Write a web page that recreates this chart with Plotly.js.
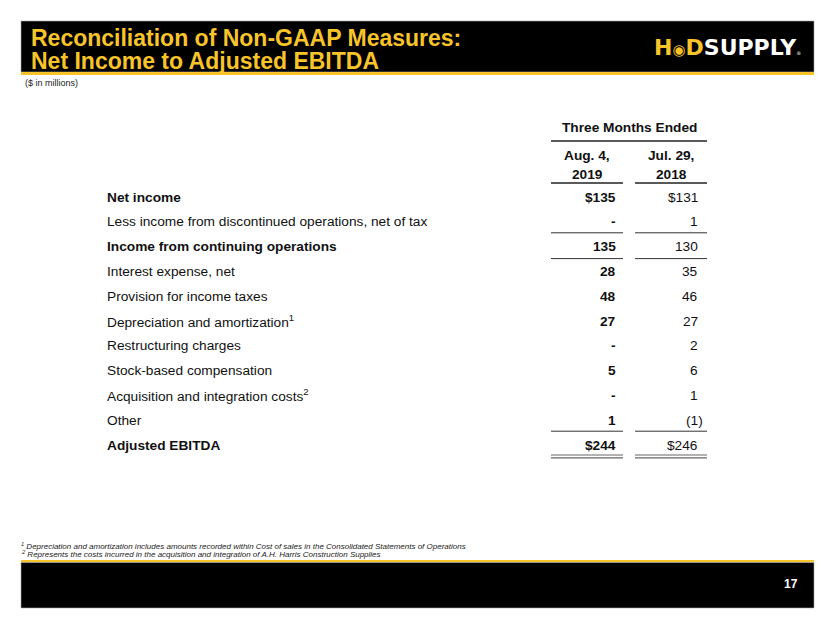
<!DOCTYPE html>
<html>
<head>
<meta charset="utf-8">
<script src="https://cdn.plot.ly/plotly-3.0.1.min.js"></script>
<style>html,body{margin:0;padding:0;background:#fff;}#chart{width:830px;height:623px;}</style>
</head>
<body>
<div id="chart"></div>
<script>
// ---- Data ----
const titleLines = ["Reconciliation of Non-GAAP Measures:", "Net Income to Adjusted EBITDA"];
const unitNote = "($ in millions)";
const groupHeader = "Three Months Ended";
const periodLine1 = ["Aug. 4,", "Jul. 29,"];
const periodLine2 = ["2019", "2018"];
const rowLabels = [
  "Net income",
  "Less income from discontinued operations, net of tax",
  "Income from continuing operations",
  "Interest expense, net",
  "Provision for income taxes",
  "Depreciation and amortization<sup>1</sup>",
  "Restructuring charges",
  "Stock-based compensation",
  "Acquisition and integration costs<sup>2</sup>",
  "Other",
  "Adjusted EBITDA"
];
const rowKinds = ["total", "item", "subtotal", "item", "item", "item", "item", "item", "item", "item", "total"];
const values2019 = [135, 0, 135, 28, 48, 27, 0, 5, 0, 1, 244];
const values2018 = [131, 1, 130, 35, 46, 27, 2, 6, 1, -1, 246];
const footnotes = [
  "<sup>1</sup> Depreciation and amortization includes amounts recorded within Cost of sales in the Consolidated Statements of Operations",
  "<sup>2</sup> Represents the costs incurred in the acquisition and integration of A.H. Harris Construction Supplies"
];
const pageNumber = "17";

// ---- Layout constants ----
const W = 830, H = 623;
const FONT = "Liberation Sans, Arial, sans-serif";
const LOGOFONT = "DejaVu Sans, Liberation Sans, sans-serif";
const YELLOW = "#F8C42A";
const rowY0 = 197, rowPitch = 24.8;
const labelX = 105;
const col = [{l: 551, r: 623, vx: 618}, {l: 635, r: 707, vx: 700}];
const rowY = i => rowY0 + i * rowPitch;

function fmt(v, kind) {
  if (v === 0) return "-";
  const s = (kind === "total" ? "$" : "") + Math.abs(v);
  return v < 0 ? "(" + s + ")" : s;
}

const annotations = [];
const shapes = [];
function ann(o) {
  annotations.push(Object.assign({xref: "x", yref: "y", showarrow: false, yanchor: "middle",
    font: {family: FONT, size: 13.7, color: "#111"}}, o));
}

// Header band
shapes.push({type: "rect", xref: "x", yref: "y", x0: 21, x1: 814, y0: 21, y1: 72, fillcolor: "#000", line: {color: "#aaa", width: 0.6}, layer: "below"});
shapes.push({type: "rect", xref: "x", yref: "y", x0: 21, x1: 814, y0: 72, y1: 75, fillcolor: YELLOW, line: {width: 0}, layer: "below"});
ann({x: 29, y: 38, xanchor: "left", text: "<b>" + titleLines[0] + "</b>", font: {family: FONT, size: 23, color: YELLOW}});
ann({x: 29, y: 61, xanchor: "left", text: "<b>" + titleLines[1] + "</b>", font: {family: FONT, size: 23, color: YELLOW}});
// Logo
ann({x: 652, y: 47.5, xanchor: "left",
  text: "<b><span style='color:" + YELLOW + "'>H<span style='font-size:15px'>◉</span>D</span>SUPPLY</b><span style='font-size:5px'>®</span>",
  font: {family: LOGOFONT, size: 22, color: "#fff"}});
ann({x: 23, y: 83, xanchor: "left", text: unitNote, font: {family: FONT, size: 9, color: "#222"}});

// Footer band
shapes.push({type: "rect", xref: "x", yref: "y", x0: 21, x1: 814, y0: 560, y1: 562.5, fillcolor: YELLOW, line: {width: 0}, layer: "below"});
shapes.push({type: "rect", xref: "x", yref: "y", x0: 21, x1: 814, y0: 562.5, y1: 608, fillcolor: "#000", line: {color: "#aaa", width: 0.6}, layer: "below"});
ann({x: 791, y: 584, xanchor: "center", text: "<b>" + pageNumber + "</b>", font: {family: FONT, size: 12, color: "#fff"}});
footnotes.forEach((t, i) => ann({x: 19, y: 545.5 + i * 8.3, xanchor: "left", text: "<i>" + t + "</i>", font: {family: FONT, size: 8, color: "#222"}}));

// Column headers
ann({x: (col[0].l + col[1].r) / 2, y: 127, xanchor: "center", text: "<b>" + groupHeader + "</b>"});
shapes.push({type: "line", xref: "x", yref: "y", x0: col[0].l, x1: col[1].r, y0: 141, y1: 141, line: {color: "#222", width: 1.3}});
col.forEach((c, j) => {
  const cx = (c.l + c.r) / 2;
  ann({x: cx, y: 155, xanchor: "center", text: "<b>" + periodLine1[j] + "</b>"});
  ann({x: cx, y: 174, xanchor: "center", text: "<b>" + periodLine2[j] + "</b>"});
  shapes.push({type: "line", xref: "x", yref: "y", x0: c.l, x1: c.r, y0: 183, y1: 183, line: {color: "#222", width: 1.3}});
});

// Rows
const series = [values2019, values2018];
rowLabels.forEach((lab, i) => {
  const y = rowY(i);
  const bold = rowKinds[i] !== "item";
  ann({x: labelX, y: y, xanchor: "left", text: bold ? "<b>" + lab + "</b>" : lab});
  series.forEach((vals, j) => {
    const v = vals[i];
    const txt = fmt(v, rowKinds[i]);
    ann({x: col[j].vx + (v < 0 ? 4.5 : 0), y: y, xanchor: "right", text: j === 0 ? "<b>" + txt + "</b>" : txt});
  });
  // rules under the cells
  const next = rowKinds[i + 1];
  if (next === "subtotal" || next === "total") {
    col.forEach(c => shapes.push({type: "line", xref: "x", yref: "y", x0: c.l, x1: c.r, y0: y + 11, y1: y + 11, line: {color: "#333", width: 1}}));
  }
  if (rowKinds[i] === "subtotal") {
    col.forEach(c => shapes.push({type: "line", xref: "x", yref: "y", x0: c.l, x1: c.r, y0: y + 12, y1: y + 12, line: {color: "#333", width: 1}}));
  }
  if (i === rowLabels.length - 1) {
    col.forEach(c => {
      shapes.push({type: "line", xref: "x", yref: "y", x0: c.l, x1: c.r, y0: y + 10, y1: y + 10, line: {color: "#666", width: 1.2}});
      shapes.push({type: "line", xref: "x", yref: "y", x0: c.l, x1: c.r, y0: y + 12.8, y1: y + 12.8, line: {color: "#666", width: 1.2}});
    });
  }
});

const layout = {
  width: W, height: H,
  margin: {l: 0, r: 0, t: 0, b: 0},
  paper_bgcolor: "#fff", plot_bgcolor: "#fff",
  showlegend: false,
  xaxis: {range: [0, W], visible: false, fixedrange: true},
  yaxis: {range: [H, 0], visible: false, fixedrange: true},
  annotations: annotations,
  shapes: shapes
};
Plotly.newPlot("chart", [{x: [], y: [], type: "scatter", mode: "markers", hoverinfo: "skip"}], layout, {displayModeBar: false, staticPlot: true});
</script>
</body>
</html>
